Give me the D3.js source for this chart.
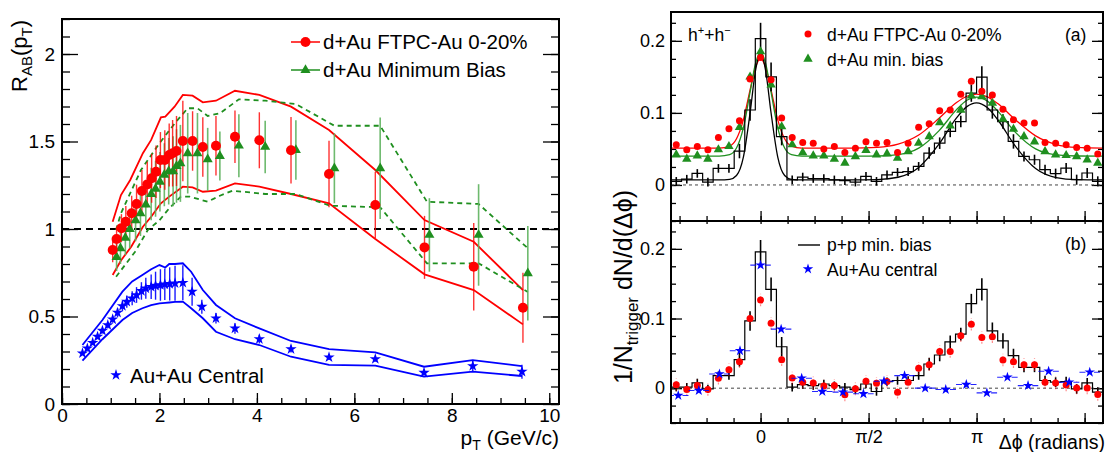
<!DOCTYPE html>
<html><head><meta charset="utf-8">
<script src="https://cdn.jsdelivr.net/npm/d3@7"></script>
<style>body{margin:0;background:#fff;}svg{display:block;}</style>
</head><body>
<svg id="c" width="1109" height="452"></svg>
<script>
// ---------------- LEFT PANEL DATA ----------------
const yTicksL = [0, 0.5, 1, 1.5, 2];
const yTickLabelsL = ["0", "0.5", "1", "1.5", "2"];
const xTicksL = [0, 2, 4, 6, 8, 10];
const xTickLabelsL = ["0", "2", "4", "6", "8", "10"];

const ptRed = [1.04,1.12,1.22,1.31,1.43,1.53,1.64,1.75,1.84,1.93,2.02,2.11,2.2,2.27,2.35,2.48,2.68,2.89,3.16,3.55,4.05,4.70,5.48,6.43,7.44,8.45,9.46];
const raaRed = [0.88,0.943,1.005,1.042,1.09,1.143,1.217,1.255,1.29,1.327,1.394,1.394,1.423,1.433,1.446,1.503,1.503,1.469,1.476,1.527,1.507,1.45,1.314,1.137,0.895,0.785,0.55];
const errRed = [0.07,0.07,0.08,0.09,0.1,0.11,0.12,0.13,0.14,0.15,0.16,0.17,0.18,0.19,0.2,0.23,0.17,0.17,0.17,0.15,0.16,0.19,0.19,0.19,0.18,0.25,0.2];

const ptGreen = [1.12,1.2,1.3,1.39,1.51,1.61,1.72,1.83,1.92,2.01,2.1,2.19,2.28,2.35,2.43,2.58,2.78,2.99,3.24,3.63,4.17,4.80,5.59,6.53,7.54,8.55,9.56];
const raaGreen = [0.84,0.89,0.95,1.0,1.05,1.09,1.14,1.2,1.23,1.27,1.31,1.33,1.33,1.36,1.375,1.433,1.433,1.398,1.417,1.476,1.469,1.451,1.347,1.347,0.966,0.966,0.747];
const errGreen = [0.08,0.09,0.1,0.11,0.12,0.13,0.14,0.15,0.16,0.17,0.18,0.19,0.2,0.21,0.22,0.23,0.23,0.18,0.14,0.18,0.15,0.17,0.2,0.29,0.21,0.29,0.27];

const ptBlue = [0.42,0.52,0.63,0.73,0.83,0.94,1.04,1.14,1.24,1.33,1.44,1.53,1.63,1.72,1.83,1.92,2.02,2.11,2.21,2.32,2.48,2.67,2.87,3.16,3.55,4.05,4.70,5.48,6.43,7.43,8.43,9.44];
const raaBlue = [0.29,0.318,0.35,0.385,0.419,0.451,0.484,0.522,0.56,0.585,0.604,0.623,0.646,0.661,0.670,0.676,0.68,0.684,0.686,0.69,0.693,0.642,0.556,0.49,0.432,0.371,0.314,0.267,0.257,0.179,0.217,0.185];
const errBlue = [0.01,0.01,0.012,0.014,0.016,0.018,0.02,0.025,0.03,0.035,0.04,0.045,0.05,0.06,0.07,0.08,0.09,0.09,0.095,0.1,0.1,0.08,0.04,0.03,0.03,0.025,0.02,0.015,0.015,0.015,0.03,0.04];

// systematic bands
const redUpX = [1.04,1.21,1.40,1.66,1.83,2.03,2.12,2.31,2.48,2.68,2.89,3.16,3.55,4.05,4.70,5.48,6.43,7.44,8.45,9.46];
const redUpY = [1.042,1.194,1.28,1.433,1.509,1.638,1.642,1.699,1.766,1.762,1.724,1.733,1.79,1.766,1.699,1.566,1.337,1.051,0.927,0.651];
const redLoX = [1.04,1.21,1.42,1.66,1.83,2.03,2.2,2.48,2.68,2.89,3.16,3.55,4.05,4.70,5.48,6.43,7.44,8.45,9.46];
const redLoY = [0.737,0.82,0.899,1.013,1.07,1.147,1.185,1.242,1.238,1.213,1.219,1.261,1.242,1.2,1.147,0.943,0.741,0.651,0.455];
const greenUpX = [1.11,1.21,1.62,2.0,2.34,2.58,2.78,2.99,3.24,3.63,4.17,4.80,5.59,6.53,7.49,8.55,9.56];
const greenUpY = [0.994,1.09,1.337,1.49,1.613,1.69,1.69,1.646,1.661,1.741,1.733,1.714,1.59,1.59,1.156,1.143,0.89];
const greenLoX = [1.11,1.5,1.76,2.0,2.2,2.44,2.62,2.99,3.24,3.5,4.17,4.8,5.5,6.53,7.49,8.55,9.56];
const greenLoY = [0.727,0.87,0.994,1.05,1.118,1.185,1.185,1.156,1.19,1.219,1.2,1.2,1.133,1.124,0.804,0.804,0.64];
const blueBandX = [0.42,0.83,1.24,1.44,1.65,1.83,2.0,2.12,2.2,2.32,2.48,2.65,2.89,3.16,3.55,4.05,4.7,5.48,6.43,7.43,8.43,9.44];
const blueUpY = [0.337,0.48,0.642,0.7,0.737,0.77,0.794,0.78,0.8,0.8,0.804,0.756,0.651,0.566,0.49,0.432,0.36,0.314,0.295,0.213,0.251,0.217];
const blueLoY = [0.248,0.37,0.48,0.52,0.547,0.565,0.575,0.578,0.58,0.583,0.585,0.547,0.49,0.413,0.37,0.337,0.27,0.223,0.219,0.156,0.185,0.16];

// ---------------- RIGHT PANEL DATA ----------------
const yTicksR = [0, 0.1, 0.2];
const yTickLabelsR = ["0", "0.1", "0.2"];
const xTicksR = [0, Math.PI / 2, Math.PI];
const xTickLabelsR = ["0", "\u03c0/2", "\u03c0"];

// bin centres (41 bins over 2pi)
const dphi = [-1.226,-1.073,-0.920,-0.766,-0.613,-0.460,-0.307,-0.153,0,0.153,0.307,0.460,0.613,0.766,0.920,1.073,1.226,1.379,1.533,1.686,1.839,1.992,2.146,2.299,2.452,2.605,2.758,2.912,3.065,3.218,3.371,3.525,3.678,3.831,3.984,4.137,4.291,4.444,4.597,4.750,4.904];

// (a) top panel
const topRed = [0.0558,0.0489,0.0535,0.0489,0.066,0.078,0.089,0.147,0.177,0.146,0.093,0.066,0.059,0.058,0.05,0.0535,0.045,0.051,0.06,0.058,0.059,0.045,0.058,0.08,0.085,0.103,0.104,0.126,0.144,0.13,0.125,0.105,0.0904,0.0859,0.0859,0.059,0.058,0.0558,0.052,0.051,0.043];
const topGreen = [0.042,0.036,0.0406,0.036,0.049,0.0535,0.08,0.15,0.185,0.139,0.081,0.056,0.045,0.0406,0.0406,0.036,0.0305,0.0396,0.048,0.042,0.0434,0.0374,0.0465,0.058,0.0673,0.0867,0.082,0.104,0.1237,0.1227,0.1136,0.0914,0.0776,0.0673,0.06,0.0465,0.042,0.041,0.0396,0.035,0.0305];
const topPP = [0.005,0.008,0.016,0.004,0.023,0.023,0.047,0.104,0.203,0.15,0.067,0.007,0.011,0.009,0.009,0.007,0.006,0.004,0.012,0.005,0.014,0.0175,0.0185,0.0258,0.0443,0.058,0.0743,0.088,0.1274,0.1496,0.104,0.088,0.0604,0.0396,0.035,0.0212,0.0157,0.0235,0.0073,0.0166,0.005];
const topPPErr = [0.006,0.006,0.006,0.006,0.006,0.006,0.01,0.015,0.022,0.02,0.012,0.006,0.006,0.006,0.006,0.006,0.006,0.006,0.006,0.006,0.006,0.006,0.006,0.006,0.008,0.008,0.008,0.008,0.012,0.015,0.012,0.01,0.01,0.007,0.007,0.007,0.007,0.007,0.007,0.007,0.007];

// fit curves
const fitX = [-1.3,-0.9,-0.6,-0.45,-0.35,-0.25,-0.15,-0.075,0,0.075,0.15,0.25,0.35,0.45,0.6,0.9,1.3,1.7,2.0,2.3,2.6,2.85,3.0,3.14,3.3,3.45,3.7,4.0,4.3,4.6,4.98];
const fitPP = [0.007,0.007,0.007,0.0077,0.0131,0.0387,0.1019,0.1578,0.183,0.1578,0.1019,0.0387,0.0131,0.0077,0.007,0.007,0.007,0.0075,0.0107,0.0243,0.0573,0.093,0.1087,0.114,0.1072,0.0905,0.0546,0.0228,0.0103,0.0074,0.007];
const fitRed = [0.0511,0.051,0.0512,0.054,0.0641,0.0903,0.133,0.1628,0.175,0.1628,0.133,0.0903,0.0641,0.054,0.0512,0.051,0.0511,0.0522,0.0566,0.0693,0.0929,0.1144,0.1231,0.126,0.1223,0.1129,0.091,0.0681,0.0561,0.0521,0.0511];
const fitGreen = [0.04,0.04,0.0401,0.0421,0.0512,0.0792,0.1302,0.1681,0.184,0.1681,0.1302,0.0792,0.0512,0.0421,0.0401,0.04,0.04,0.0402,0.0421,0.0511,0.0758,0.1045,0.1175,0.122,0.1163,0.1025,0.0737,0.05,0.0418,0.0402,0.04];

// (b) bottom panel
const botPP = [0.0014,0.0014,0.0076,-0.001,0.018,0.018,0.041,0.0966,0.1957,0.1419,0.0595,0.0014,0.005,0.0036,0.006,0.0036,0.0014,-0.002,0.006,-0.0048,0.0095,0.011,0.011,0.018,0.0347,0.0476,0.0666,0.0776,0.1214,0.1419,0.0823,0.068,0.0466,0.03,0.03,0.011,0.0086,0.0095,-0.001,0.0076,-0.0057];
const botPPErr = [0.006,0.006,0.006,0.006,0.006,0.006,0.01,0.014,0.017,0.017,0.014,0.006,0.006,0.006,0.006,0.006,0.006,0.006,0.006,0.006,0.006,0.006,0.006,0.006,0.009,0.009,0.009,0.009,0.014,0.016,0.012,0.011,0.01,0.007,0.007,0.007,0.007,0.007,0.007,0.007,0.007];
const botRed = [0.005,-0.002,0.0037,-0.002,0.0143,0.0266,0.038,0.1,0.1266,0.0933,0.0409,0.0147,0.0086,0.0076,0.003,0.0037,-0.0096,-0.001,0.01,0.007,0.0095,-0.0057,0.0086,0.0286,0.0338,0.0528,0.0528,0.0752,0.0919,0.0728,0.0738,0.0404,0.038,0.0338,0.0338,0.0086,0.0076,0.0047,0.0004,0.0004,-0.009];
const dphiAuAu = [-1.197,-0.898,-0.598,-0.299,0,0.299,0.598,0.898,1.197,1.496,1.795,2.094,2.394,2.693,2.992,3.291,3.590,3.890,4.189,4.488,4.787];
const botBlue = [-0.0105,-0.0034,0.0204,0.0537,0.1766,0.0847,0.0143,-0.0048,-0.0057,-0.0081,0.01,0.018,0.0,-0.002,0.0052,-0.0067,0.0157,0.0037,0.0243,0.0086,0.0229];

// ---------------- DRAWING ----------------
const FONT = '"Liberation Sans", Arial, Helvetica, sans-serif';
const RED = "#ff0000", GREEN = "#1f8f1f", GREEN_L = "#5fb35f", BLUE = "#0000ff";
const svg = d3.select("#c").style("font-family", FONT);
const zip = (a, b) => a.map((v, i) => [v, b[i]]);

function ax(parent, tx, ty, axis, fs, sw) {
  const g = parent.append("g").attr("transform", `translate(${tx},${ty})`).call(axis);
  g.attr("font-family", null).attr("font-size", null);
  g.select(".domain").remove();
  g.selectAll(".tick line").attr("stroke", "#000").attr("stroke-width", sw || 1.3);
  g.selectAll(".tick text").attr("font-size", fs || 19).attr("fill", "#000");
  return g;
}

// ===== LEFT =====
const xL = d3.scaleLinear().domain([0, 10.2]).range([62, 559]);
const yL = d3.scaleLinear().domain([0, 2.2]).range([404, 19]);
const gL = svg.append("g");
svg.append("clipPath").attr("id", "clipL").append("rect")
  .attr("x", 62).attr("y", 19).attr("width", 497).attr("height", 385);

// axes
ax(gL, 62, 0, d3.axisLeft(yL).tickValues(yL.ticks(22)).tickSize(-8).tickFormat(""));
ax(gL, 62, 0, d3.axisLeft(yL).tickValues(yTicksL).tickSize(-16).tickPadding(7)
  .tickFormat((d, i) => yTickLabelsL[i]), 19);
ax(gL, 559, 0, d3.axisRight(yL).tickValues(yL.ticks(22)).tickSize(-8).tickFormat(""));
ax(gL, 559, 0, d3.axisRight(yL).tickValues(yTicksL).tickSize(-16).tickFormat(""));
ax(gL, 0, 404, d3.axisBottom(xL).tickValues(xL.ticks(20)).tickSize(-6).tickFormat(""));
ax(gL, 0, 404, d3.axisBottom(xL).tickValues(xTicksL).tickSize(-11).tickPadding(5)
  .tickFormat((d, i) => xTickLabelsL[i]), 19);

const pL = gL.append("g").attr("clip-path", "url(#clipL)");
const lineL = d3.line().x(d => xL(d[0])).y(d => yL(d[1]));

// dashed unity line
pL.append("line").attr("x1", xL(0)).attr("x2", xL(10.2)).attr("y1", yL(1)).attr("y2", yL(1))
  .attr("stroke", "#000").attr("stroke-width", 1.8).attr("stroke-dasharray", "7,5");

// bands
[[redUpX, redUpY], [redLoX, redLoY]].forEach(([xs, ys]) =>
  pL.append("path").attr("d", lineL(zip(xs, ys))).attr("fill", "none")
    .attr("stroke", RED).attr("stroke-width", 1.8));
[[greenUpX, greenUpY], [greenLoX, greenLoY]].forEach(([xs, ys]) =>
  pL.append("path").attr("d", lineL(zip(xs, ys))).attr("fill", "none")
    .attr("stroke", GREEN).attr("stroke-width", 1.8).attr("stroke-dasharray", "5,4"));
[blueUpY, blueLoY].forEach(ys =>
  pL.append("path").attr("d", lineL(zip(blueBandX, ys))).attr("fill", "none")
    .attr("stroke", BLUE).attr("stroke-width", 1.8));

// error bars
function errBars(g, xs, ys, es, xs_, ys_, color, w, op) {
  g.selectAll(null).data(xs).enter().append("line")
    .attr("x1", (d) => xs_(d)).attr("x2", (d) => xs_(d))
    .attr("y1", (d, i) => ys_(ys[i] - es[i])).attr("y2", (d, i) => ys_(ys[i] + es[i]))
    .attr("stroke", color).attr("stroke-width", w).attr("opacity", op);
}
errBars(pL, ptGreen, raaGreen, errGreen, xL, yL, GREEN_L, 1.6, 0.9);
errBars(pL, ptRed, raaRed, errRed, xL, yL, RED, 1.4, 0.8);
errBars(pL, ptBlue, raaBlue, errBlue, xL, yL, BLUE, 1.4, 0.9);

// markers
const triL = d3.symbol(d3.symbolTriangle).size(44)();
const starL = d3.symbol(d3.symbolStar).size(40)();
pL.selectAll(null).data(ptGreen).enter().append("path").attr("d", triL)
  .attr("transform", (d, i) => `translate(${xL(d)},${yL(raaGreen[i])})`).attr("fill", GREEN);
pL.selectAll(null).data(ptRed).enter().append("circle")
  .attr("cx", d => xL(d)).attr("cy", (d, i) => yL(raaRed[i])).attr("r", 5).attr("fill", RED);
pL.selectAll(null).data(ptBlue).enter().append("path").attr("d", starL)
  .attr("transform", (d, i) => `translate(${xL(d)},${yL(raaBlue[i])})`).attr("fill", BLUE);

// frame
gL.append("rect").attr("x", 62).attr("y", 19).attr("width", 497).attr("height", 385)
  .attr("fill", "none").attr("stroke", "#000").attr("stroke-width", 2);

// legend left
gL.append("line").attr("x1", 291).attr("x2", 320).attr("y1", 42).attr("y2", 42).attr("stroke", RED).attr("stroke-width", 1.5);
gL.append("circle").attr("cx", 305.5).attr("cy", 42).attr("r", 5).attr("fill", RED);
gL.append("text").attr("x", 323).attr("y", 49).attr("font-size", 20.5).text("d+Au FTPC-Au 0-20%");
gL.append("line").attr("x1", 291).attr("x2", 320).attr("y1", 70).attr("y2", 70).attr("stroke", GREEN).attr("stroke-width", 1.5);
gL.append("path").attr("d", triL).attr("transform", "translate(305.5,70)").attr("fill", GREEN);
gL.append("text").attr("x", 323).attr("y", 77).attr("font-size", 20.5).text("d+Au Minimum Bias");
gL.append("path").attr("d", starL).attr("transform", "translate(116,375)").attr("fill", BLUE);
gL.append("text").attr("x", 130).attr("y", 383).attr("font-size", 20.5).text("Au+Au Central");

// axis titles left
const tY = gL.append("text").attr("transform", "translate(27,20) rotate(-90)").attr("text-anchor", "end").attr("font-size", 22);
tY.append("tspan").text("R");
tY.append("tspan").attr("font-size", 15).attr("dy", 5).text("AB");
tY.append("tspan").attr("dy", -5).text("(p");
tY.append("tspan").attr("font-size", 15).attr("dy", 5).text("T");
tY.append("tspan").attr("dy", -5).text(")");
const tX = gL.append("text").attr("x", 559).attr("y", 445).attr("text-anchor", "end").attr("font-size", 21);
tX.append("tspan").text("p");
tX.append("tspan").attr("font-size", 14).attr("dy", 5).text("T");
tX.append("tspan").attr("dy", -5).text(" (GeV/c)");

// ===== RIGHT =====
const xR = d3.scaleLinear().domain([-1.3026, 4.98]).range([671, 1103]);
const yT = d3.scaleLinear().domain([-0.05, 0.24]).range([221, 12]);
const yB = d3.scaleLinear().domain([-0.05, 0.24]).range([423, 221]);
const gR = svg.append("g");
svg.append("clipPath").attr("id", "clipT").append("rect").attr("x", 671).attr("y", 12).attr("width", 432).attr("height", 209);
svg.append("clipPath").attr("id", "clipB").append("rect").attr("x", 671).attr("y", 221).attr("width", 432).attr("height", 202);

const minorY = d3.range(-0.05, 0.2401, 0.025);
const minorX = d3.range(-3, 13).map(i => i * Math.PI / 8);
const majorX = [0, Math.PI / 2, Math.PI, 3 * Math.PI / 2];

[[yT, 12, 221], [yB, 221, 423]].forEach(([ys, top, bot], pi) => {
  ax(gR, 671, 0, d3.axisLeft(ys).tickValues(minorY).tickSize(-5).tickFormat(""));
  ax(gR, 671, 0, d3.axisLeft(ys).tickValues(yTicksR).tickSize(-11).tickPadding(6)
    .tickFormat((d, i) => yTickLabelsR[i]), 18);
  ax(gR, 1103, 0, d3.axisRight(ys).tickValues(minorY).tickSize(-5).tickFormat(""));
  ax(gR, 1103, 0, d3.axisRight(ys).tickValues(yTicksR).tickSize(-11).tickFormat(""));
  ax(gR, 0, bot, d3.axisBottom(xR).tickValues(minorX).tickSize(-5).tickFormat(""));
  if (pi === 0) {
    ax(gR, 0, bot, d3.axisBottom(xR).tickValues(majorX).tickSize(-10).tickFormat(""));
  } else {
    ax(gR, 0, top, d3.axisTop(xR).tickValues(minorX).tickSize(-3).tickFormat(""));
    ax(gR, 0, bot, d3.axisBottom(xR).tickValues(majorX).tickSize(-10).tickFormat(""));
    ax(gR, 0, bot, d3.axisBottom(xR).tickValues(xTicksR).tickSize(0).tickPadding(7)
      .tickFormat((d, i) => xTickLabelsR[i]), 18);
  }
});

const w = dphi[1] - dphi[0];
function histPath(vals, ys) {
  const pts = dphi.map((c, i) => [c - w / 2, vals[i]]);
  pts.push([dphi[dphi.length - 1] + w / 2, vals[vals.length - 1]]);
  return d3.line().x(d => xR(d[0])).y(d => ys(d[1])).curve(d3.curveStepAfter)(pts);
}
function zeroLine(g, ys) {
  g.append("line").attr("x1", 671).attr("x2", 1103).attr("y1", ys(0)).attr("y2", ys(0))
    .attr("stroke", "#444").attr("stroke-width", 1).attr("stroke-dasharray", "3,3");
}

// --- top panel (a)
const pT = gR.append("g").attr("clip-path", "url(#clipT)");
zeroLine(pT, yT);
const fitLine = d3.line().x(d => xR(d[0])).y(d => yT(d[1])).curve(d3.curveMonotoneX);
pT.append("path").attr("d", fitLine(zip(fitX, fitRed))).attr("fill", "none").attr("stroke", RED).attr("stroke-width", 1.3);
pT.append("path").attr("d", fitLine(zip(fitX, fitGreen))).attr("fill", "none").attr("stroke", GREEN).attr("stroke-width", 1.3);
pT.append("path").attr("d", histPath(topPP, yT)).attr("fill", "none").attr("stroke", "#000").attr("stroke-width", 1.2);
errBars(pT, dphi, topPP, topPPErr, xR, yT, "#000", 1.6, 1);
pT.append("path").attr("d", fitLine(zip(fitX, fitPP))).attr("fill", "none").attr("stroke", "#000").attr("stroke-width", 1.3);
const triR = d3.symbol(d3.symbolTriangle).size(38)();
pT.selectAll(null).data(dphi).enter().append("path").attr("d", triR)
  .attr("transform", (d, i) => `translate(${xR(d)},${yT(topGreen[i])})`).attr("fill", GREEN);
pT.selectAll(null).data(dphi).enter().append("circle")
  .attr("cx", d => xR(d)).attr("cy", (d, i) => yT(topRed[i])).attr("r", 3.5).attr("fill", RED);

// --- bottom panel (b)
const pB = gR.append("g").attr("clip-path", "url(#clipB)");
zeroLine(pB, yB);
pB.append("path").attr("d", histPath(botPP, yB)).attr("fill", "none").attr("stroke", "#000").attr("stroke-width", 1.2);
errBars(pB, dphi, botPP, botPPErr, xR, yB, "#000", 1.6, 1);
pB.selectAll(null).data(dphi).enter().append("line")
  .attr("x1", d => xR(d)).attr("x2", d => xR(d))
  .attr("y1", (d, i) => yB(botRed[i] - 0.009)).attr("y2", (d, i) => yB(botRed[i] + 0.009))
  .attr("stroke", RED).attr("stroke-width", 1.2).attr("stroke-dasharray", "2,2").attr("opacity", 0.45);
pB.selectAll(null).data(dphi).enter().append("circle")
  .attr("cx", d => xR(d)).attr("cy", (d, i) => yB(botRed[i])).attr("r", 3.5).attr("fill", RED);
const wB = (dphiAuAu[1] - dphiAuAu[0]) / 2;
pB.selectAll(null).data(dphiAuAu).enter().append("line")
  .attr("x1", d => xR(d - wB)).attr("x2", d => xR(d + wB))
  .attr("y1", (d, i) => yB(botBlue[i])).attr("y2", (d, i) => yB(botBlue[i]))
  .attr("stroke", BLUE).attr("stroke-width", 1.1).attr("stroke-dasharray", "6,8.5,6").attr("opacity", 0.85);
const starR = d3.symbol(d3.symbolStar).size(34)();
pB.selectAll(null).data(dphiAuAu).enter().append("path").attr("d", starR)
  .attr("transform", (d, i) => `translate(${xR(d)},${yB(botBlue[i])})`).attr("fill", BLUE);

// frames
gR.append("rect").attr("x", 671).attr("y", 12).attr("width", 432).attr("height", 209)
  .attr("fill", "none").attr("stroke", "#000").attr("stroke-width", 2);
gR.append("rect").attr("x", 671).attr("y", 221).attr("width", 432).attr("height", 202)
  .attr("fill", "none").attr("stroke", "#000").attr("stroke-width", 2);

// labels / legends right
const hh = gR.append("text").attr("x", 688).attr("y", 41).attr("font-size", 17.5);
hh.append("tspan").text("h");
hh.append("tspan").attr("font-size", 11).attr("dy", -7).text("+");
hh.append("tspan").attr("dy", 7).text("+h");
hh.append("tspan").attr("font-size", 11).attr("dy", -7).text("\u2212");
gR.append("circle").attr("cx", 808).attr("cy", 34).attr("r", 3.5).attr("fill", RED);
gR.append("text").attr("x", 827).attr("y", 41).attr("font-size", 17.5).text("d+Au FTPC-Au 0-20%");
gR.append("path").attr("d", triR).attr("transform", "translate(808,59)").attr("fill", GREEN);
gR.append("text").attr("x", 827).attr("y", 66).attr("font-size", 17.5).text("d+Au min. bias");
gR.append("text").attr("x", 1065).attr("y", 41).attr("font-size", 17.5).text("(a)");

gR.append("line").attr("x1", 798).attr("x2", 820).attr("y1", 245).attr("y2", 245).attr("stroke", "#000").attr("stroke-width", 1.4);
gR.append("text").attr("x", 827).attr("y", 251).attr("font-size", 17.5).text("p+p min. bias");
gR.append("path").attr("d", starR).attr("transform", "translate(808,269)").attr("fill", BLUE);
gR.append("text").attr("x", 827).attr("y", 276).attr("font-size", 17.5).text("Au+Au central");
gR.append("text").attr("x", 1065).attr("y", 250).attr("font-size", 17.5).text("(b)");

gR.append("text").attr("x", 1105).attr("y", 449).attr("text-anchor", "end").attr("font-size", 19.5).text("\u0394\u03d5 (radians)");
const tYR = gR.append("text").attr("transform", "translate(632,287) rotate(-90)").attr("text-anchor", "middle").attr("font-size", 25);
tYR.append("tspan").text("1/N");
tYR.append("tspan").attr("font-size", 17).attr("dy", 6).text("trigger");
tYR.append("tspan").attr("dy", -6).text(" dN/d(\u0394\u03d5)");
</script>
</body></html>
